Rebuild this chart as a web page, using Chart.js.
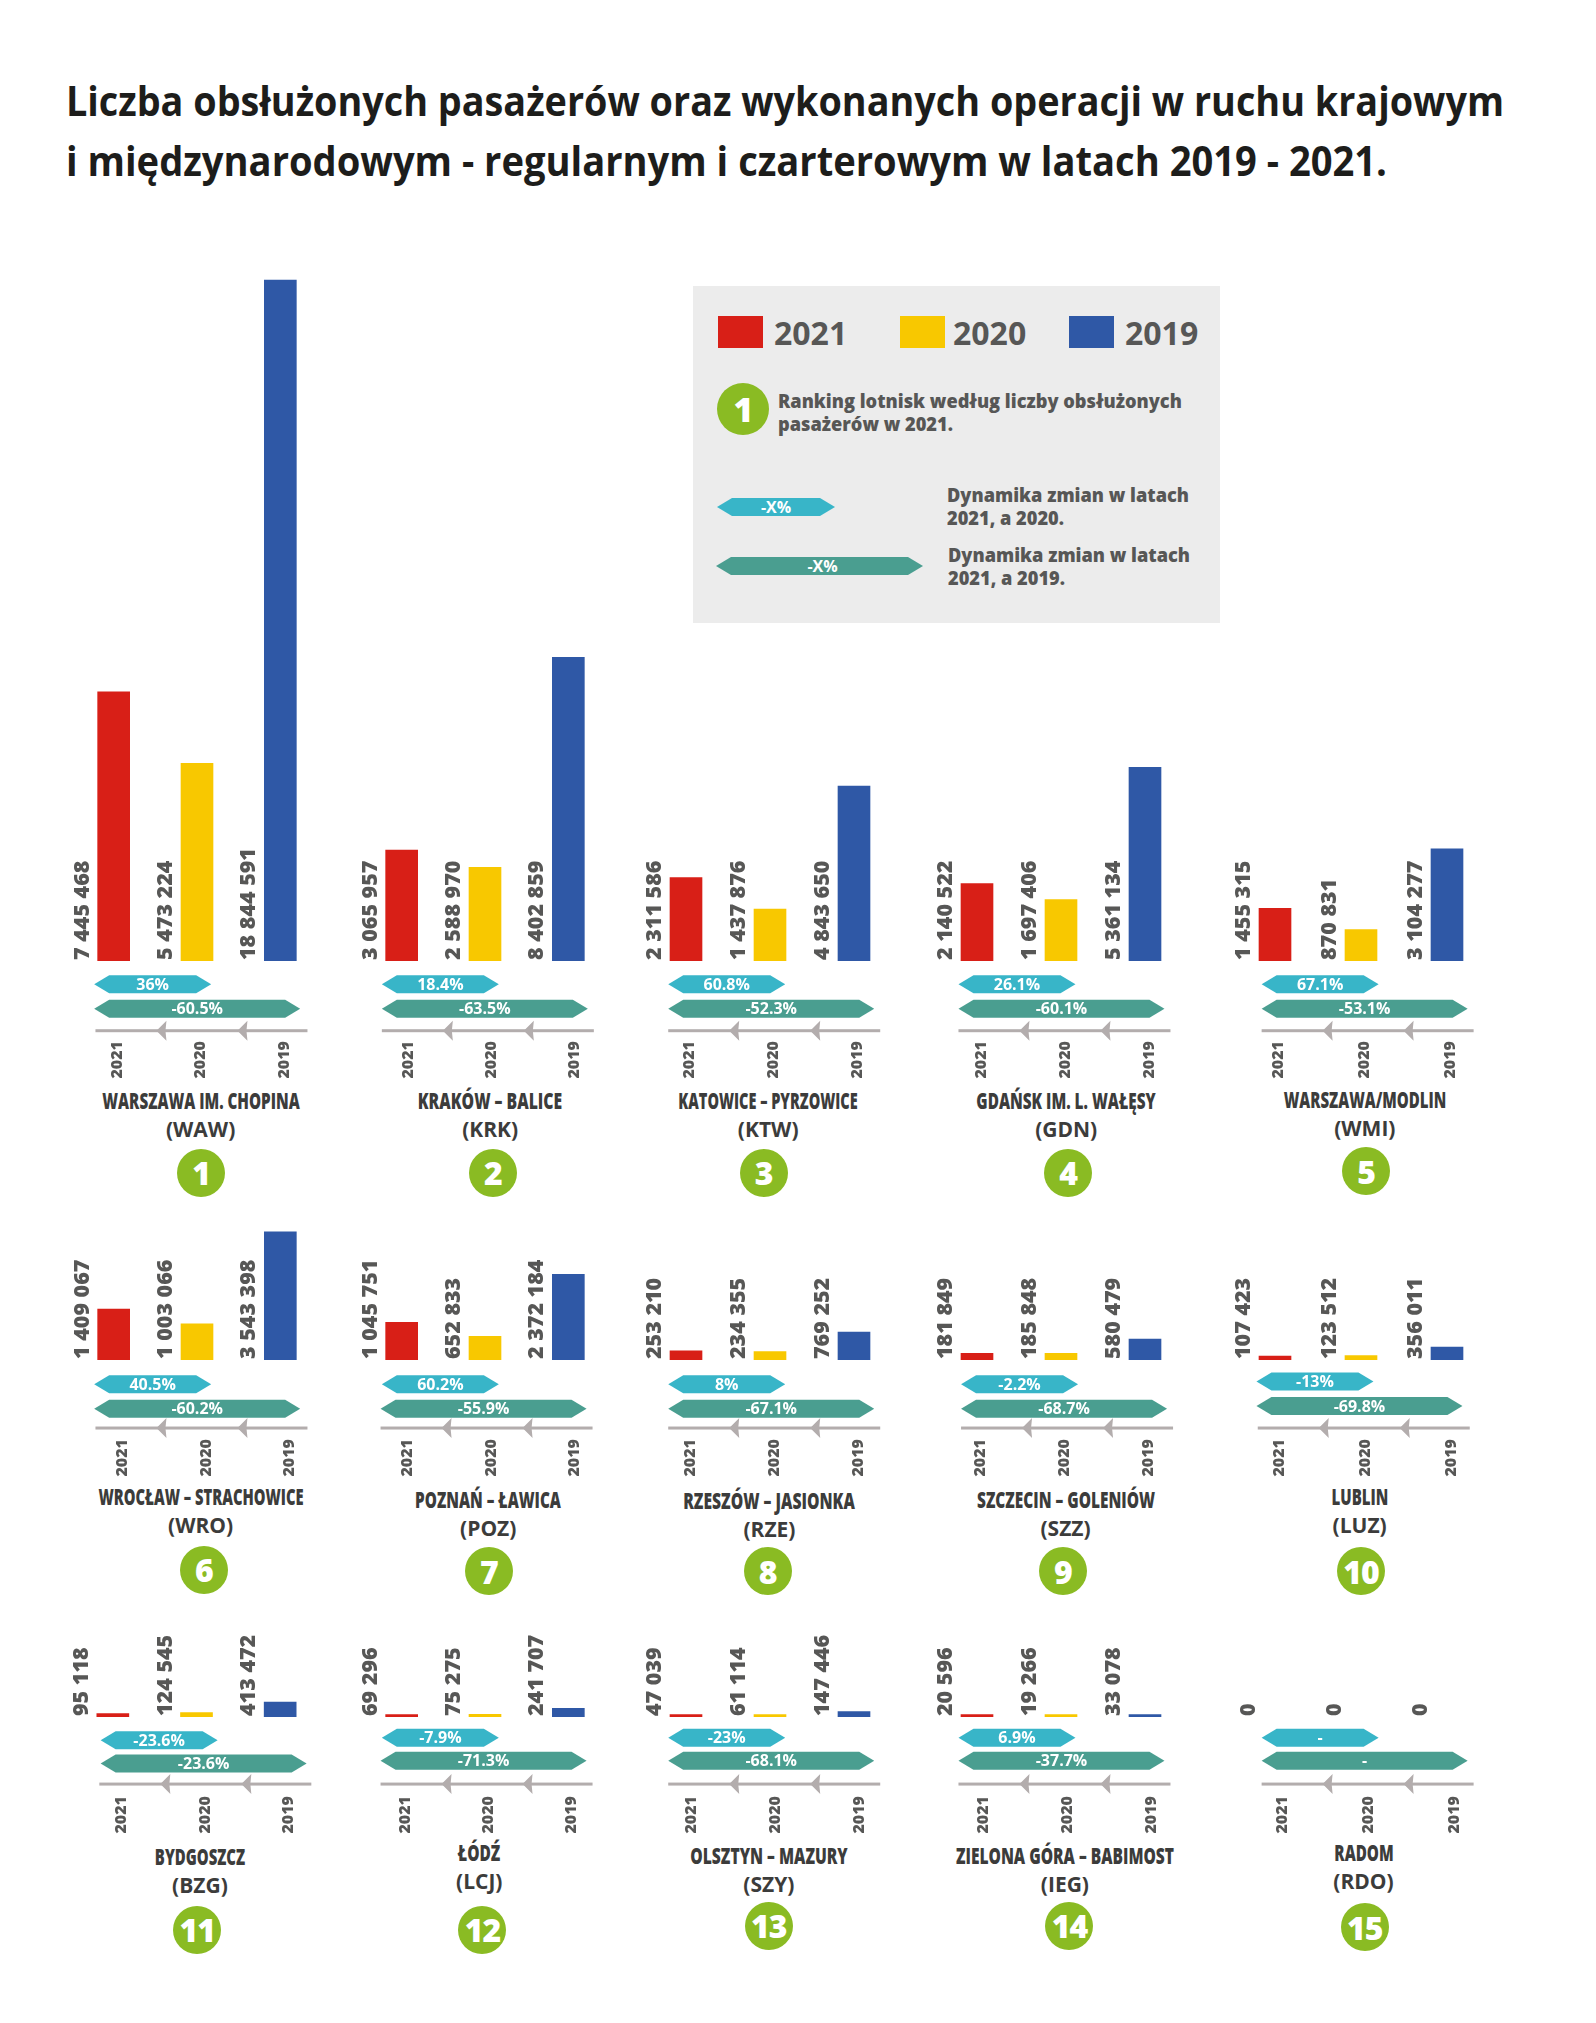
<!DOCTYPE html>
<html lang="pl">
<head>
<meta charset="utf-8">
<title>Liczba obsłużonych pasażerów</title>
<script src="https://cdn.jsdelivr.net/npm/chart.js@4/dist/chart.umd.min.js"></script>
<style>
  html, body { margin: 0; background: #fff; }
  #page { position: relative; width: 1596px; height: 2023px; overflow: hidden; font-family: "Open Sans", sans-serif; }
  #page canvas { position: absolute; z-index: 2; }
  .abs { position: absolute; white-space: nowrap; }
  .title { left: 66px; font-size: 42px; font-weight: 700; line-height: 60px; color: #1d1d1b; transform-origin: left center; }
  .name { font-weight: 800; font-size: 22px; line-height: 28px; color: #3c3c3b; }
  .code { font-weight: 700; font-size: 21px; line-height: 28px; color: #3c3c3b; transform: translateX(-50%); }
  .badge { border-radius: 50%; background: #8abb23; color: #fff; font-weight: 800; display: flex; align-items: center; justify-content: center; letter-spacing: -1px; }
  #legend { left: 693px; top: 286px; width: 527px; height: 337px; background: #ececec; }
  .sw { position: absolute; top: 30px; width: 45px; height: 32px; }
  .yr { position: absolute; top: 27px; font-size: 32px; line-height: 40px; font-weight: 700; color: #575756; }
  .note { position: absolute; font-size: 20px; line-height: 23px; font-weight: 800; color: #575756; white-space: nowrap; transform-origin: left center; transform: scaleX(.91); }
  .pill { position: absolute; height: 18px; color: #fff; font-size: 16px; line-height: 18px; font-weight: 700; text-align: center;
          clip-path: polygon(0 50%, 15px 0, calc(100% - 15px) 0, 100% 50%, calc(100% - 15px) 100%, 15px 100%); }
</style>
</head>
<body>
<div id="page">
  <div class="abs title" id="t1" style="top:70px">Liczba obsłużonych pasażerów oraz wykonanych operacji w ruchu krajowym</div>
  <div class="abs title" id="t2" style="top:130px">i międzynarodowym - regularnym i czarterowym w latach 2019 - 2021.</div>
  <div class="abs" id="legend">
    <div class="sw" style="left:25px;background:#d81f17"></div><div class="yr" style="left:81px">2021</div>
    <div class="sw" style="left:207px;background:#f8c800"></div><div class="yr" style="left:260px">2020</div>
    <div class="sw" style="left:376px;background:#2f58a6"></div><div class="yr" style="left:432px">2019</div>
    <div class="badge abs" style="left:24px;top:97px;width:52px;height:52px;font-size:34px">1</div>
    <div class="note" style="left:85px;top:103px">Ranking lotnisk według liczby obsłużonych<br>pasażerów w 2021.</div>
    <div class="pill" style="left:24px;top:212px;width:118px;background:#38b5c8">-X%</div>
    <div class="note" style="left:254px;top:197px">Dynamika zmian w latach<br>2021, a 2020.</div>
    <div class="pill" style="left:23px;top:271px;width:207px;background:#4a9e90;text-indent:6px">-X%</div>
    <div class="note" style="left:255px;top:257px">Dynamika zmian w latach<br>2021, a 2019.</div>
  </div>
</div>
<script>
// Data
const years = ['2021', '2020', '2019'];
const airports = ['WARSZAWA IM. CHOPINA', 'KRAKÓW – BALICE', 'KATOWICE – PYRZOWICE', 'GDAŃSK IM. L. WAŁĘSY', 'WARSZAWA/MODLIN',
  'WROCŁAW – STRACHOWICE', 'POZNAŃ – ŁAWICA', 'RZESZÓW – JASIONKA', 'SZCZECIN – GOLENIÓW', 'LUBLIN',
  'BYDGOSZCZ', 'ŁÓDŹ', 'OLSZTYN – MAZURY', 'ZIELONA GÓRA – BABIMOST', 'RADOM'];
const codes = ['WAW', 'KRK', 'KTW', 'GDN', 'WMI', 'WRO', 'POZ', 'RZE', 'SZZ', 'LUZ', 'BZG', 'LCJ', 'SZY', 'IEG', 'RDO'];
const pax2021 = [7445468, 3065957, 2311586, 2140522, 1455315, 1409067, 1045751, 253210, 181849, 107423, 95118, 69296, 47039, 20596, 0];
const pax2020 = [5473224, 2588970, 1437876, 1697406, 870831, 1003066, 652833, 234355, 185848, 123512, 124545, 75275, 61114, 19266, 0];
const pax2019 = [18844591, 8402859, 4843650, 5361134, 3104277, 3543398, 2372184, 769252, 580479, 356011, 413472, 241707, 147446, 33078, 0];
const dyn2020 = ['36%', '18.4%', '60.8%', '26.1%', '67.1%', '40.5%', '60.2%', '8%', '-2.2%', '-13%', '-23.6%', '-7.9%', '-23%', '6.9%', '-'];
const dyn2019 = ['-60.5%', '-63.5%', '-52.3%', '-60.1%', '-53.1%', '-60.2%', '-55.9%', '-67.1%', '-68.7%', '-69.8%', '-23.6%', '-71.3%', '-68.1%', '-37.7%', '-'];

// Layout: px per passenger is shared by all the small charts
const PX_PER_PAX = 681 / 18844591;
const colors = ['#d81f17', '#f8c800', '#2f58a6'];
const rows = [{ base: 961, plot: 690, pad: 80 }, { base: 1360, plot: 140, pad: 79 }, { base: 1717, plot: 110, pad: 79 }];
const S = 1.29; // table below is in preview units
// first bar centre, last bar centre, pill 1 left, pill 2 left, axis left, year shift, name x, name y, badge x, badge y, pill 1 y, pill 2 y, axis y, name width
const tiles = [
  [88, 217, 73, 73, 74, 3, 155.5, 853, 156, 909, 763, 782, 799, 153],
  [311, 440, 296, 296, 296, 5, 380, 853, 382, 909, 763, 782, 799, 112],
  [531.5, 661.5, 518, 518, 518, 2.7, 595.5, 853, 592, 909, 763, 782, 799, 139],
  [757, 887, 743, 743, 743, 3.8, 826.5, 853, 828, 909, 763, 782, 799, 139],
  [988.5, 1122, 978, 978, 978, 3, 1058, 852, 1059, 908, 763, 782, 799, 126],
  [88, 217, 73, 73, 74, 7, 155.5, 1160, 158, 1217, 1073, 1092, 1107, 159],
  [311, 440, 296, 295, 295, 4.7, 378.5, 1162, 379, 1218, 1073, 1092, 1107, 113],
  [531.5, 661.5, 518, 518, 518, 3.4, 596.5, 1163, 595, 1218, 1073, 1092, 1107, 133],
  [757, 887, 745, 745, 745, 2.8, 826, 1162, 824, 1218, 1073, 1092, 1107, 138],
  [988.5, 1122, 974, 974, 975, 3.7, 1054, 1160, 1055, 1218, 1071, 1090, 1107, 44],
  [87.5, 217, 78, 78, 77, 6.7, 155, 1439, 153, 1496, 1349, 1367, 1383, 70],
  [311, 440, 296, 295, 295, 2.7, 371.5, 1436, 374, 1496, 1347, 1365, 1383, 33],
  [531.5, 661.5, 518, 518, 518, 4.4, 596, 1438, 596, 1493, 1347, 1365, 1383, 122],
  [757, 887, 743, 743, 743, 4.8, 825.5, 1438, 829, 1493, 1347, 1365, 1383, 169],
  [988.5, 1122, 978, 978, 978, 6, 1057, 1436, 1058, 1494, 1347, 1365, 1383, 46]
];
const PAD = 70, BELOW = 135;
const page = document.getElementById('page');

function hexPill(ctx, x, y, w, color) {
  const h = 9, tip = 15;
  ctx.fillStyle = color;
  ctx.beginPath();
  ctx.moveTo(x, y);
  ctx.lineTo(x + tip, y - h);
  ctx.lineTo(x + w - tip, y - h);
  ctx.lineTo(x + w, y);
  ctx.lineTo(x + w - tip, y + h);
  ctx.lineTo(x + tip, y + h);
  ctx.closePath();
  ctx.fill();
}

function arrowHead(ctx, x, y) {
  ctx.beginPath();
  ctx.moveTo(x, y);
  ctx.lineTo(x + 10, y - 10);
  ctx.lineTo(x + 9, y);
  ctx.lineTo(x + 10, y + 10);
  ctx.closePath();
  ctx.fill();
}

// Draws the rotated values, the change pills and the time arrow of one chart
const tileDecor = {
  id: 'tileDecor',
  afterDatasetsDraw(chart, args, opts) {
    const ctx = chart.ctx;
    const bottom = chart.chartArea.bottom;
    ctx.save();
    ctx.font = '800 21.5px "Open Sans"';
    ctx.fillStyle = '#575756';
    ctx.textBaseline = 'middle';
    chart.getDatasetMeta(0).data.forEach((bar, i) => {
      const value = chart.data.datasets[0].data[i];
      const label = String(value).replace(/\B(?=(\d{3})+$)/g, ' ');
      ctx.save();
      ctx.translate(bar.x - 16 - (value === 0 ? 10 : 15), bottom - 1);
      ctx.rotate(-Math.PI / 2);
      ctx.fillText(label, 0, 0);
      ctx.restore();
    });
    ctx.textAlign = 'center';
    ctx.font = '700 16px "Open Sans"';
    hexPill(ctx, opts.pill1X, opts.pill1Y, 117, '#38b5c8');
    hexPill(ctx, opts.pill2X, opts.pill2Y, 206, '#4a9e90');
    ctx.fillStyle = '#fff';
    ctx.fillText(opts.text1, opts.pill1X + 58.5, opts.pill1Y + 1);
    ctx.fillText(opts.text2, opts.pill2X + 103, opts.pill2Y + 1);
    ctx.fillStyle = '#b3adad';
    ctx.fillRect(opts.axisX, opts.axisY - 1.5, 212, 3);
    arrowHead(ctx, opts.axisX + 61, opts.axisY);
    arrowHead(ctx, opts.axisX + 142, opts.axisY);
    ctx.restore();
  }
};

tiles.forEach((t, i) => {
  const row = rows[Math.floor(i / 5)];
  const first = t[0] * S, last = t[1] * S;
  const slot = (last - first) / 2;
  const left = Math.round(first - slot / 2 - PAD);
  const top = row.base - row.plot;
  const canvas = document.createElement('canvas');
  canvas.width = Math.round(slot * 3 + PAD * 2);
  canvas.height = row.plot + BELOW;
  canvas.style.left = left + 'px';
  canvas.style.top = top + 'px';
  page.appendChild(canvas);

  new Chart(canvas, {
    type: 'bar',
    data: {
      labels: years,
      datasets: [{
        data: [pax2021[i], pax2020[i], pax2019[i]],
        backgroundColor: ctx => (ctx.raw ? colors[ctx.dataIndex] : 'transparent'),
        barThickness: 32,
        minBarLength: 2.5,
        borderWidth: 0
      }]
    },
    options: {
      responsive: false,
      animation: false,
      devicePixelRatio: 1,
      layout: { padding: { left: PAD, right: PAD } },
      events: [],
      scales: {
        x: {
          afterFit: scale => { scale.height = BELOW; },
          grid: { display: false, drawTicks: false },
          border: { display: false },
          ticks: {
            autoSkip: false,
            minRotation: 90,
            maxRotation: 90,
            padding: row.pad,
            labelOffset: t[5] * S,
            color: '#575756',
            font: { family: '"Open Sans"', size: 16, weight: '800' }
          }
        },
        y: { display: false, min: 0, max: row.plot / PX_PER_PAX }
      },
      plugins: {
        legend: { display: false },
        tooltip: { enabled: false },
        tileDecor: {
          pill1X: t[2] * S - left,
          pill2X: t[3] * S - left,
          pill1Y: t[10] * S - top,
          pill2Y: t[11] * S - top,
          axisX: t[4] * S - left,
          axisY: t[12] * S - top,
          text1: dyn2020[i],
          text2: dyn2019[i]
        }
      }
    },
    plugins: [tileDecor]
  });

  // Airport name, code and ranking badge
  const name = document.createElement('div');
  name.className = 'abs name';
  name.textContent = airports[i];
  name.style.left = t[6] * S + 'px';
  name.style.top = t[7] * S - 14 + 'px';
  page.appendChild(name);
  const squeeze = t[13] * S / name.getBoundingClientRect().width;
  name.style.transform = 'translateX(-50%) scaleX(' + squeeze + ')';

  const code = document.createElement('div');
  code.className = 'abs code';
  code.textContent = '(' + codes[i] + ')';
  code.style.left = t[6] * S + 'px';
  code.style.top = t[7] * S + 15 + 'px';
  page.appendChild(code);

  const badge = document.createElement('div');
  badge.className = 'abs badge';
  badge.textContent = i + 1;
  badge.style.left = t[8] * S - 24 + 'px';
  badge.style.top = t[9] * S - 24 + 'px';
  badge.style.width = '48px';
  badge.style.height = '48px';
  badge.style.fontSize = '32px';
  page.appendChild(badge);
});

// Squeeze the two title lines to the width they have in the picture
[['t1', 1438], ['t2', 1321]].forEach(([id, width]) => {
  const el = document.getElementById(id);
  el.style.transform = 'scaleX(' + width / el.getBoundingClientRect().width + ')';
});
</script>
</body>
</html>
